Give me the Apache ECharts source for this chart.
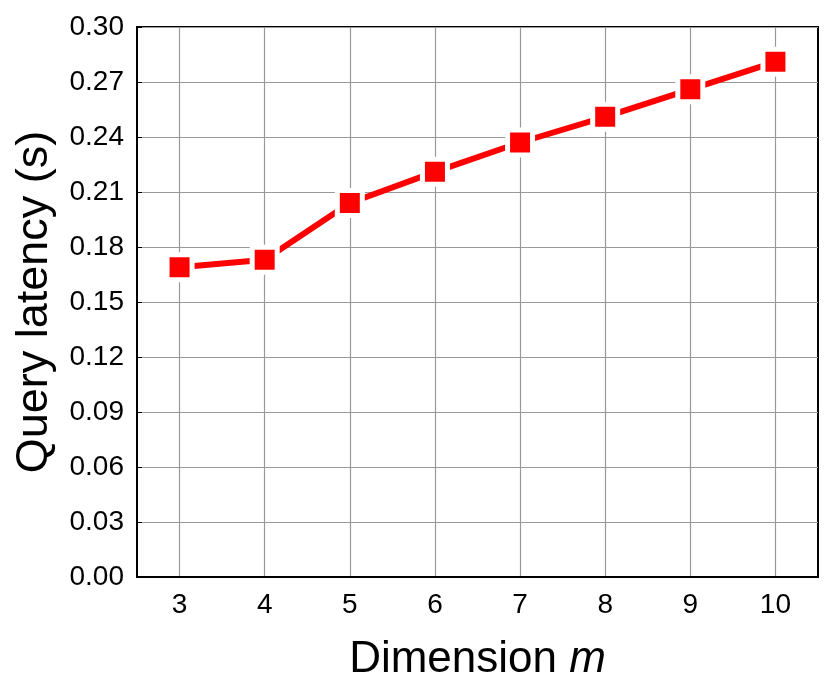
<!DOCTYPE html>
<html>
<head>
<meta charset="utf-8">
<script src="https://cdn.jsdelivr.net/npm/echarts@6/dist/echarts.min.js"></script>
<style>
  html, body { margin: 0; padding: 0; background: #fff; }
  #chart { width: 830px; height: 695px; }
</style>
</head>
<body>
<div id="chart"></div>
<script>
var dimensions = ["3", "4", "5", "6", "7", "8", "9", "10"];
var latency = [0.169, 0.173, 0.204, 0.221, 0.237, 0.251, 0.266, 0.281];

var font = "Liberation Sans, Arial, Helvetica, sans-serif";
var chart = echarts.init(document.getElementById("chart"), null, { renderer: "canvas" });

chart.setOption({
  backgroundColor: "#fff",
  animation: false,
  grid: {
    left: 137,
    right: 12,
    top: 27,
    bottom: 118,
    show: true,
    borderColor: "#000",
    borderWidth: 2
  },
  xAxis: {
    type: "category",
    data: dimensions,
    boundaryGap: true,
    name: "Dimension {i|m}",
    nameLocation: "middle",
    nameGap: 61,
    nameTextStyle: {
      fontFamily: font,
      fontSize: 44,
      color: "#000",
      rich: {
        i: { fontFamily: font, fontSize: 44, fontStyle: "italic", color: "#000" }
      }
    },
    axisLine: { lineStyle: { color: "#000", width: 2 } },
    axisTick: { show: false },
    axisLabel: { fontFamily: font, fontSize: 28, color: "#000", margin: 14 },
    splitLine: {
      show: true,
      alignWithLabel: true,
      lineStyle: { color: "#999", width: 1.2 }
    }
  },
  yAxis: {
    type: "value",
    min: 0,
    max: 0.3,
    interval: 0.03,
    name: "Query latency (s)",
    nameLocation: "middle",
    nameGap: 80,
    nameTextStyle: { fontFamily: font, fontSize: 45, color: "#000" },
    axisLine: { show: true, lineStyle: { color: "#000", width: 2 } },
    axisTick: { show: true, inside: true, length: 5, lineStyle: { color: "#000" } },
    axisLabel: {
      fontFamily: font,
      fontSize: 28,
      color: "#000",
      margin: 13,
      formatter: function (v) { return v.toFixed(2); }
    },
    splitLine: { show: true, lineStyle: { color: "#999", width: 1.2 } }
  },
  series: [
    {
      type: "line",
      data: latency,
      symbol: "rect",
      symbolSize: 25,
      lineStyle: { color: "#ff0000", width: 6, cap: "round" },
      itemStyle: { color: "#ff0000", borderColor: "#fff", borderWidth: 5 },
      z: 3
    }
  ]
});
</script>
</body>
</html>
